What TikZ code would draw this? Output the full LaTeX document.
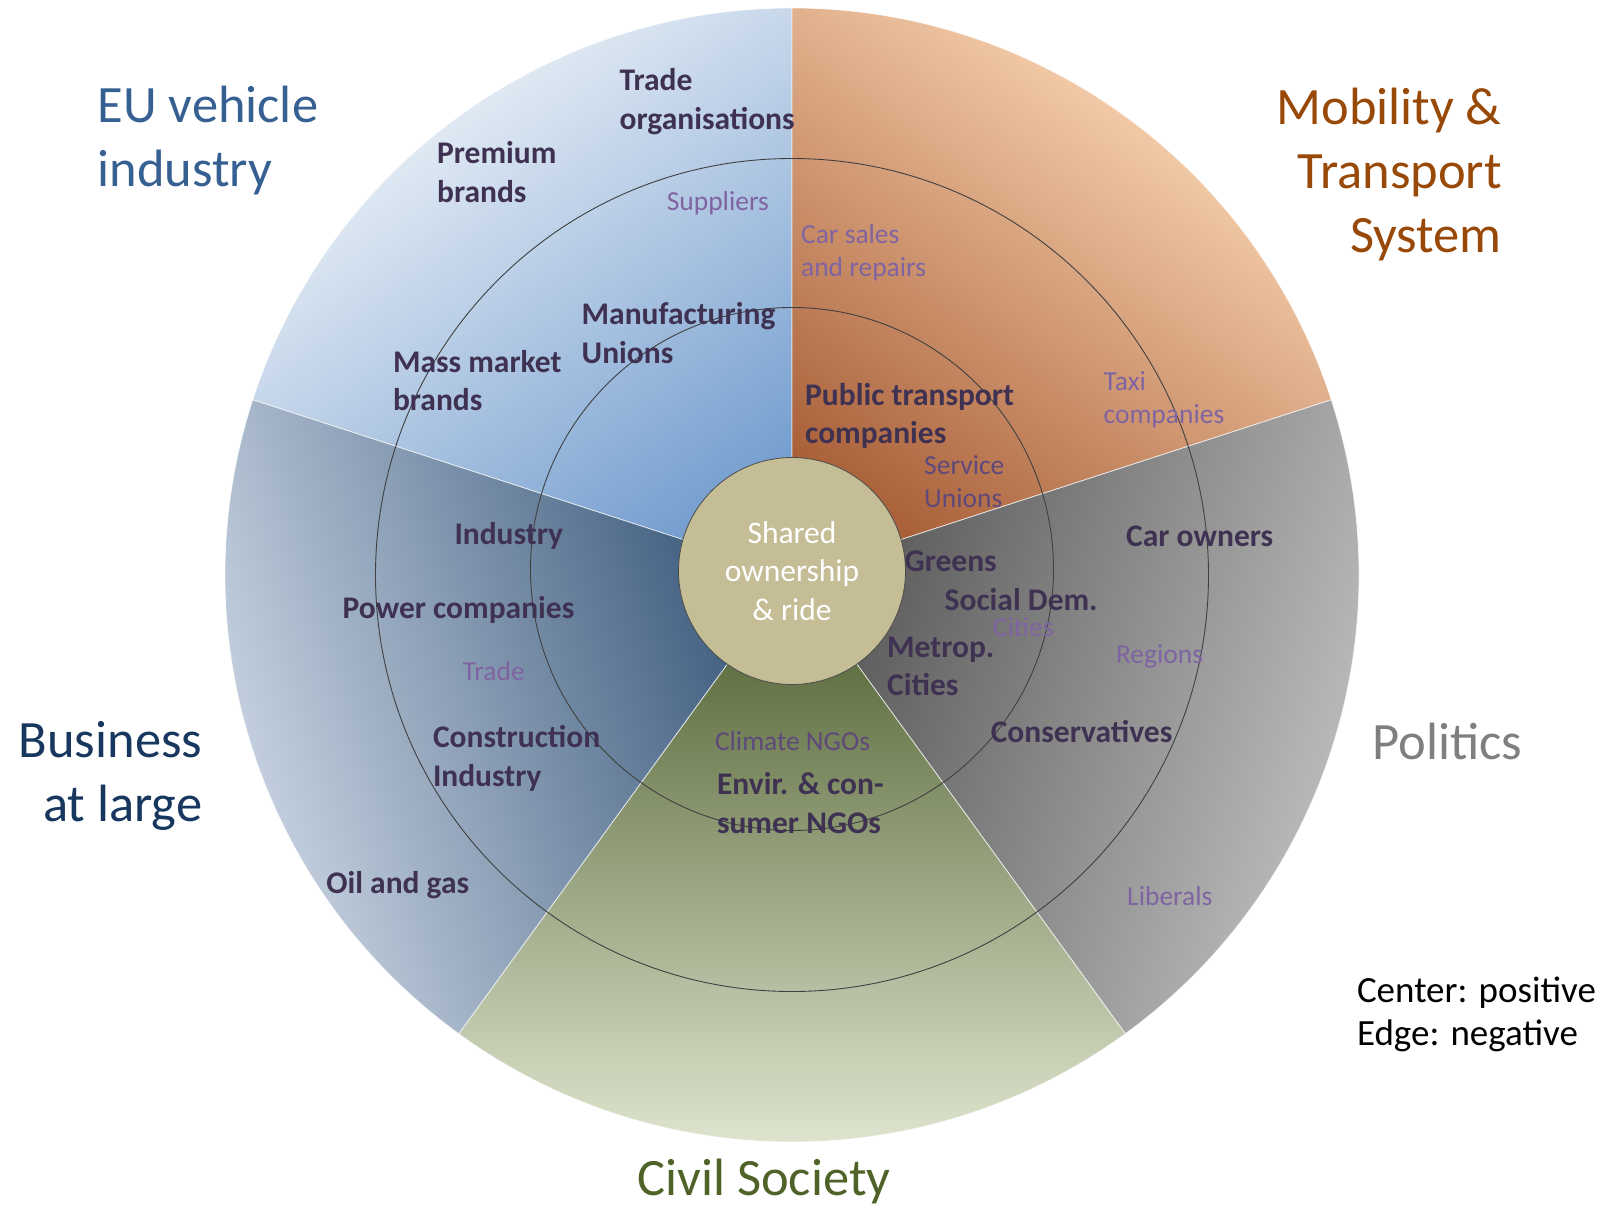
\documentclass[tikz,border=0pt]{standalone}
\usepackage{fontspec}
\setmainfont{Carlito}
\usetikzlibrary{calc}
\definecolor{lblc}{HTML}{3F3151}
\definecolor{subc}{HTML}{8064A2}
\definecolor{subd}{HTML}{5F497A}
\definecolor{euD}{HTML}{5F8FC8}\definecolor{euL}{HTML}{E0E9F3}
\definecolor{moD}{HTML}{9A4A22}\definecolor{moL}{HTML}{F2C9A6}
\definecolor{poD}{HTML}{4F4F4F}\definecolor{poL}{HTML}{B8B8B8}
\definecolor{ciD}{HTML}{4A5C2A}\definecolor{ciL}{HTML}{DEE4CE}
\definecolor{buD}{HTML}{2F4F73}\definecolor{buL}{HTML}{C2CEDD}
\definecolor{ctrc}{HTML}{C5BD96}
\definecolor{tEU}{HTML}{376092}
\definecolor{tMo}{HTML}{984807}
\definecolor{tPo}{HTML}{7F7F7F}
\definecolor{tCi}{HTML}{4F6228}
\definecolor{tBu}{HTML}{17375E}
\newcommand\mysector[5]{%
  \begin{scope}
    \clip (O) -- ($(O)+(#1:567)$) arc[start angle=#1,end angle=#2,radius=567] -- cycle;
    \begin{scope}[transform canvas={rotate around={#5:(O)}}]
      \shade[bottom color=#3, top color=#4] ($(O)+(-640,0)$) rectangle ($(O)+(640,-568)$);
    \end{scope}
  \end{scope}
  \draw[sectorline] (O) -- ($(O)+(#1:567)$) arc[start angle=#1,end angle=#2,radius=567] -- cycle;
}
\begin{document}
\begin{tikzpicture}[x=1pt,y=-1pt,
  sectorline/.style={draw=white,line width=0.8pt,draw opacity=0.7},
  ring/.style={draw=black!75,line width=0.9pt},
  lbl/.style={font=\fontsize{31.5}{38.5}\selectfont\bfseries,text=lblc,anchor=west,align=left,inner sep=0},
  sub/.style={font=\fontsize{27.5}{33}\selectfont,text=subc,anchor=west,align=left,inner sep=0},
  ttl/.style={font=\fontsize{52.5}{64}\selectfont,inner sep=0},
  note/.style={font=\fontsize{37}{43.5}\selectfont,text=black,anchor=west,align=left,inner sep=0}]
\useasboundingbox (0,0) rectangle (1608,1207);
\coordinate (O) at (792,575);
% sectors (tikz angle = - visual angle)
\mysector{-90}{-162}{euD}{euL}{36}
\mysector{-18}{-90}{moD}{moL}{-36}
\mysector{54}{-18}{poD}{poL}{-108}
\mysector{126}{54}{ciD}{ciL}{180}
\mysector{198}{126}{buD}{buL}{108}
% rings
\draw[ring] (O) circle[radius=416.5];
\draw[ring] (792,569) circle[radius=261.5];
% center
\node[circle,fill=ctrc,draw=black!70,line width=0.8pt,minimum size=227pt,inner sep=0,
      text=white,align=center,font=\fontsize{31.5}{38.5}\selectfont] (ctr) at (792,571)
      {Shared\\ownership\\\& ride};
% bold labels
\node[lbl] (trorg) at (619.4,101.5) {Trade\\organisations};
\node[lbl] (prem) at (436.9,172) {Premium\\brands};
\node[lbl] (manu) at (581.5,333) {Manufacturing\\Unions};
\node[lbl] (mass) at (392.8,380.4) {Mass market\\brands};
\node[lbl] (pubt) at (805,415.8) {Public transport\\companies};
\node[lbl] (ind) at (454.3,535.8) {Industry};
\node[lbl] (pow) at (342.5,609.6) {Power companies};
\node[lbl] (cons) at (432.8,758.3) {Construction\\Industry};
\node[lbl] (oil) at (326.1,885.5) {Oil and gas};
\node[lbl] (caro) at (1126,536.3) {Car owners};
\node[lbl] (gre) at (904.5,560.9) {Greens};
\node[lbl] (soc) at (944.5,599.4) {Social Dem.};
\node[lbl] (met) at (887,666.5) {Metrop.\\Cities};
\node[lbl] (cnsv) at (990.6,731.2) {Conservatives};
\node[lbl] (envi) at (716.8,802.9) {Envir. \& con-\\sumer NGOs};
% light labels
\node[sub] (supp) at (666.6,203) {Suppliers};
\node[sub] (cars) at (800.9,252.2) {Car sales\\and repairs};
\node[sub] (taxi) at (1103.4,400) {Taxi\\companies};
\node[sub,text=subd] (serv) at (924,482) {Service\\Unions};
\node[sub] (cit) at (992.7,626.6) {Cities};
\node[sub] (reg) at (1115.8,656.3) {Regions};
\node[sub] (trd) at (462.5,670.6) {Trade};
\node[sub,text=subd] (clim) at (714.8,741.4) {Climate NGOs};
\node[sub] (lib) at (1127,896.3) {Liberals};
% titles
\node[ttl,text=tEU,anchor=west,align=left] (tteu) at (97.4,140.4) {EU vehicle\\industry};
\node[ttl,text=tMo,anchor=east,align=right] (ttmo) at (1502,174.8) {Mobility \&\\Transport\\System};
\node[ttl,text=tPo,anchor=west] (ttpo) at (1372.1,741.4) {Politics};
\node[ttl,text=tBu,anchor=east,align=right] (ttbu) at (202.5,776.2) {Business\\at large};
\node[ttl,text=tCi,anchor=center] (ttci) at (764,1181.5) {Civil Society};
\node[note] (leg) at (1356.8,1014.2) {Center: positive\\Edge: negative};
\end{tikzpicture}
\end{document}
